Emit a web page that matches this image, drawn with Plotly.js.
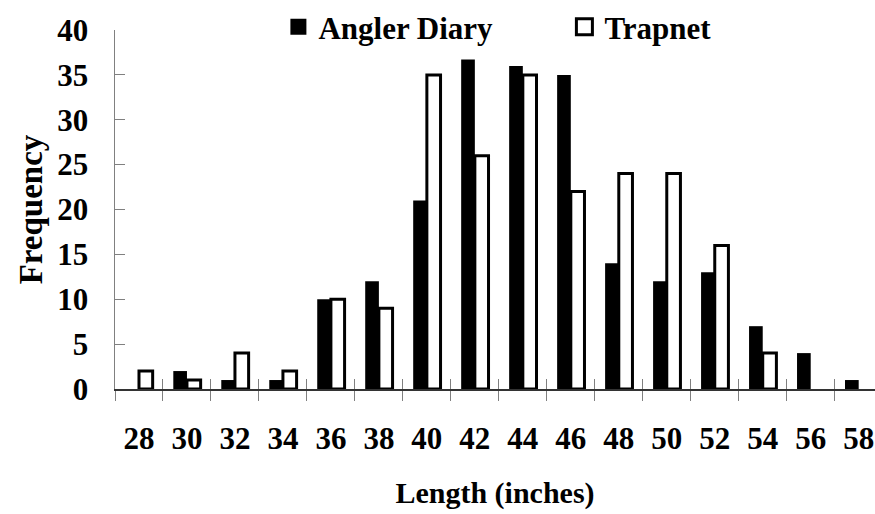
<!DOCTYPE html>
<html>
<head>
<meta charset="utf-8">
<script src="https://cdn.plot.ly/plotly-3.0.1.min.js"></script>
<style>html,body{margin:0;padding:0;background:#fff;}#chart{width:875px;height:514px;}</style>
</head>
<body>
<div id="chart"></div>
<script>
const lengths = ['28','30','32','34','36','38','40','42','44','46','48','50','52','54','56','58'];
const anglerDiary = [0, 2, 1, 1, 10, 12, 21, 36.7, 36, 35, 14, 12, 13, 7, 4, 1];
const trapnet = [2, 1, 4, 2, 10, 9, 35, 26, 35, 22, 24, 24, 16, 4, 0, 0];
const yTicks = [0, 5, 10, 15, 20, 25, 30, 35, 40];
const seriesNames = ['Angler Diary', 'Trapnet'];

const FONT = 'Liberation Serif, Times New Roman, serif';
const xRange = [-0.5, 15.34];
// zero-frequency bins draw no bar
const noZero = arr => arr.map(v => (v === 0 ? null : v));

const traces = [
  {
    type: 'bar', name: seriesNames[0], x: lengths, y: noZero(anglerDiary),
    marker: {color: '#000000', line: {width: 0}},
    showlegend: false, hoverinfo: 'x+y'
  },
  {
    type: 'bar', name: seriesNames[1], x: lengths, y: noZero(trapnet),
    marker: {color: '#ffffff', line: {color: '#000000', width: 3}},
    showlegend: false, hoverinfo: 'x+y'
  },
  // legend keys (large squares, like the original)
  {
    type: 'scatter', mode: 'markers', name: seriesNames[0], x: [null], y: [null],
    marker: {symbol: 'square', size: 20, color: '#000000', line: {width: 0}},
    showlegend: true, hoverinfo: 'skip'
  },
  {
    type: 'scatter', mode: 'markers', name: seriesNames[1], x: [null], y: [null],
    marker: {symbol: 'square', size: 17, color: '#ffffff', line: {color: '#000000', width: 3}},
    showlegend: true, hoverinfo: 'skip'
  },
  {
    type: 'scatter', mode: 'markers', x: lengths, y: anglerDiary, xaxis: 'x2', yaxis: 'y',
    marker: {opacity: 0}, showlegend: false, hoverinfo: 'skip'
  }
];

const layout = {
  width: 875, height: 514,
  margin: {l: 115, r: 0, t: 29, b: 125},
  paper_bgcolor: '#ffffff', plot_bgcolor: '#ffffff',
  font: {family: FONT, size: 30, color: '#000000', weight: 700},
  barmode: 'group', bargap: 0.43, bargroupgap: 0,
  showlegend: true,
  legend: {
    orientation: 'h', x: 0.215, xanchor: 'left', y: 1.085, yanchor: 'top',
    font: {family: FONT, size: 31, color: '#000', weight: 700},
    bgcolor: 'rgba(0,0,0,0)', traceorder: 'normal',
    entrywidth: 241, entrywidthmode: 'pixels', itemwidth: 30
  },
  xaxis: {
    type: 'category', categoryorder: 'array', categoryarray: lengths,
    range: xRange, tickson: 'boundaries',
    ticks: 'outside', ticklen: 10, tickwidth: 1, tickcolor: '#808080',
    showline: true, linecolor: '#333333', linewidth: 1.5,
    showgrid: false, zeroline: false,
    tickfont: {family: FONT, size: 31, color: '#000', weight: 700},
    ticklabelstandoff: 21,
    title: {text: 'Length (inches)', font: {family: FONT, size: 30, color: '#000', weight: 700}, standoff: 27},
    fixedrange: true
  },
  xaxis2: {
    type: 'category', categoryorder: 'array', categoryarray: lengths,
    overlaying: 'x', anchor: 'y', side: 'bottom',
    range: xRange, tickson: 'boundaries',
    ticks: 'inside', ticklen: 10, tickwidth: 1, tickcolor: '#808080',
    showticklabels: false, showline: false, showgrid: false, zeroline: false,
    fixedrange: true
  },
  yaxis: {
    range: [0, 40], tickvals: yTicks, ticktext: yTicks.map(String),
    ticks: 'inside', ticklen: 10, tickwidth: 1, tickcolor: '#808080',
    showline: true, linecolor: '#808080', linewidth: 1.5,
    showgrid: false, zeroline: false,
    tickfont: {family: FONT, size: 31, color: '#000', weight: 700},
    ticklabelstandoff: 19,
    title: {text: 'Frequency', font: {family: FONT, size: 33, color: '#000', weight: 700}, standoff: 4},
    fixedrange: true
  }
};

Plotly.newPlot('chart', traces, layout, {displayModeBar: false, staticPlot: true});
</script>
</body>
</html>
